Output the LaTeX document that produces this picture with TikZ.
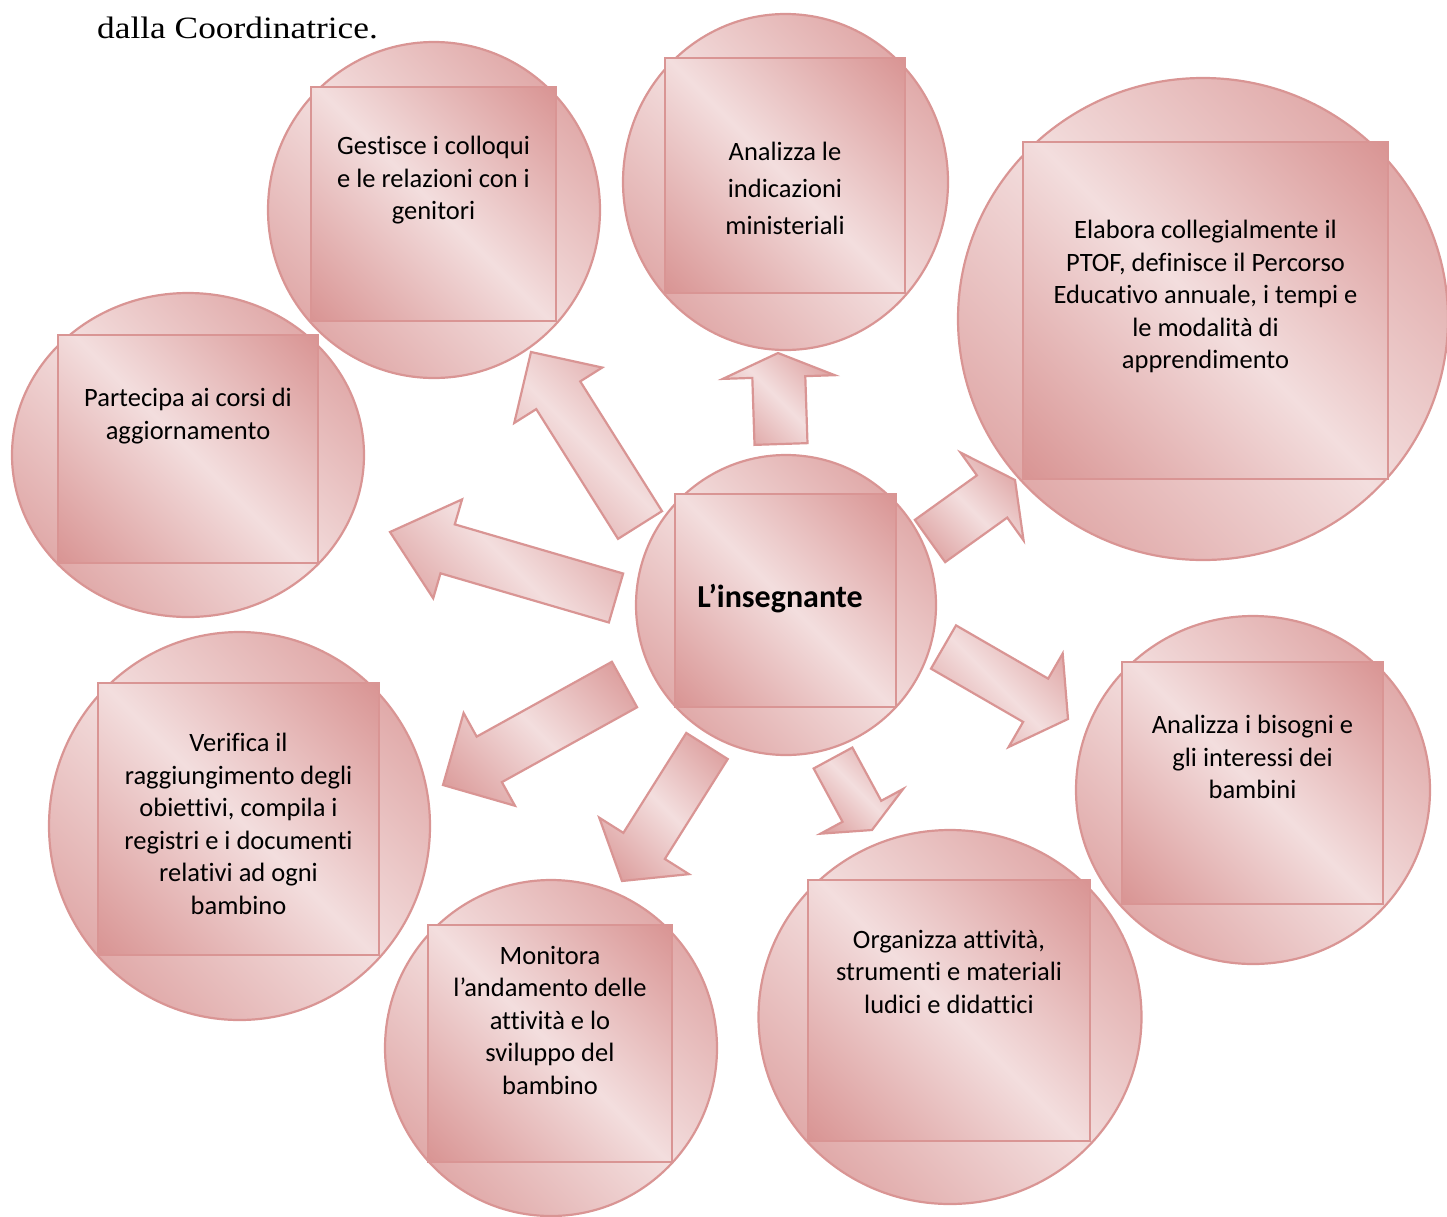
\documentclass[tikz,border=0pt]{standalone}
\usepackage{fontspec}
\setmainfont{Carlito}[Ligatures=NoCommon]
\newfontfamily\topserif{Liberation Serif}
\usetikzlibrary{shapes.geometric,calc}
\definecolor{pkdark}{RGB}{217,149,148}
\definecolor{pklight}{RGB}{243,222,222}
\definecolor{pkborder}{RGB}{217,149,148}
\pgfdeclarehorizontalshading{wordgrad}{100bp}{color(0bp)=(pkdark); color(15bp)=(pkdark); color(50bp)=(pklight); color(85bp)=(pkdark); color(100bp)=(pkdark)}
\tikzset{
  bubble/.style={ellipse, draw=pkborder, line width=2.2pt, shade, shading=wordgrad, shading angle=45, inner sep=0pt, outer sep=0pt},
  panel/.style={rectangle, draw=pkborder, line width=2.2pt, shade, shading=wordgrad, shading angle=45, inner sep=0pt},
  txt/.style={align=center, inner sep=0pt, anchor=north, font=\fontsize{26.5}{32.5}\selectfont},
  blockarr/.style={draw=pkborder, line width=2.2pt, shade, shading=wordgrad, shading angle=45, line join=miter}
}
% #1 name, #2 tail, #3 tip, #4 neck fraction, #5 shaft half width, #6 head half width
\newcommand\myblockarrow[6]{%
  \coordinate (#1n) at ($(#2)!#4!(#3)$);
  \draw[blockarr] ($(#2)!#5!90:(#3)$) -- ($(#1n)!#5!90:(#3)$) -- ($(#1n)!#6!90:(#3)$) -- (#3)
    -- ($(#1n)!#6!-90:(#3)$) -- ($(#1n)!#5!-90:(#3)$) -- ($(#2)!#5!-90:(#3)$) -- cycle;}
\begin{document}
\begin{tikzpicture}[x=1pt,y=-1pt]
\useasboundingbox (0,0) rectangle (1447,1216);
\node[anchor=base west, inner sep=0pt, font=\topserif\fontsize{31}{36}\selectfont] (intro) at (97,38.5) {\scalebox{1.14}[1]{dalla Coordinatrice.}};

% bubbles
\node[bubble, minimum width=332pt, minimum height=336pt] (cG) at (434,210) {};
\node[panel, minimum width=245pt, minimum height=234pt] (sG) at (433.5,204) {};
\node[txt] (tG) at ($(sG.north)+(0,50)$) {Gestisce i colloqui\\e le relazioni con i\\genitori};

\node[bubble, minimum width=325pt, minimum height=336pt] (cA) at (785.5,182) {};
\node[panel, minimum width=240pt, minimum height=235pt] (sA) at (785,175.5) {};
\node[txt, font=\fontsize{26.5}{37}\selectfont] (tA) at ($(sA.north)+(0,85)$) {Analizza le\\indicazioni\\ministeriali};

\node[bubble, minimum width=490pt, minimum height=482pt] (cE) at (1203,319) {};
\node[panel, minimum width=365pt, minimum height=337pt] (sE) at (1205.5,310.5) {};
\node[txt] (tE) at ($(sE.north)+(0,79)$) {Elabora collegialmente il\\PTOF, definisce il Percorso\\Educativo annuale, i tempi e\\le modalità di\\apprendimento};

\node[bubble, minimum width=352pt, minimum height=324pt] (cP) at (188,455) {};
\node[panel, minimum width=260pt, minimum height=228pt] (sP) at (188,449) {};
\node[txt] (tP) at ($(sP.north)+(0,54)$) {Partecipa ai corsi di\\aggiornamento};

\node[bubble, minimum width=300pt, minimum height=300pt] (cC) at (786,605) {};
\node[panel, minimum width=221pt, minimum height=213pt] (sC) at (785.5,600.5) {};
\node[inner sep=0pt, font=\bfseries\fontsize{32}{38}\selectfont] (tC) at (780,599) {L’insegnante};

\node[bubble, minimum width=354pt, minimum height=348pt] (cB) at (1253,790) {};
\node[panel, minimum width=261pt, minimum height=242pt] (sB) at (1252.5,783) {};
\node[txt] (tB) at ($(sB.north)+(0,54)$) {Analizza i bisogni e\\gli interessi dei\\bambini};

\node[bubble, minimum width=381pt, minimum height=388pt] (cV) at (239.5,826) {};
\node[panel, minimum width=281pt, minimum height=272pt] (sV) at (238.5,819) {};
\node[txt] (tV) at ($(sV.north)+(0,51)$) {Verifica il\\raggiungimento degli\\obiettivi, compila i\\registri e i documenti\\relativi ad ogni\\bambino};

\node[bubble, minimum width=332pt, minimum height=336pt] (cM) at (551,1048) {};
\node[panel, minimum width=244pt, minimum height=237pt] (sM) at (550,1043.5) {};
\node[txt] (tM) at ($(sM.north)+(0,22)$) {Monitora\\l’andamento delle\\attività e lo\\sviluppo del\\bambino};

\node[bubble, minimum width=383pt, minimum height=374pt] (cO) at (950,1017) {};
\node[panel, minimum width=282pt, minimum height=261pt] (sO) at (949,1010.5) {};
\node[txt] (tO) at ($(sO.north)+(0,51)$) {Organizza attività,\\strumenti e materiali\\ludici e didattici};

% block arrows (tail, tip)
\coordinate (aT) at (640,525);   \coordinate (aP) at (531,352);
\coordinate (bT) at (616,598);   \coordinate (bP) at (390,532);
\coordinate (cT) at (781,444);   \coordinate (cP) at (778,353);
\coordinate (dT) at (930,541);   \coordinate (dP) at (1015,480);
\coordinate (eT) at (943.5,647); \coordinate (eP) at (1068,719);
\coordinate (fT) at (833,758);   \coordinate (fP) at (872,830);
\coordinate (gT) at (707,746);   \coordinate (gP) at (622,881);
\coordinate (hT) at (624.5,684.5); \coordinate (hP) at (443,785);
\myblockarrow{a}{aT}{aP}{0.75}{26pt}{52pt}
\myblockarrow{b}{bT}{bP}{0.745}{25.5pt}{51.5pt}
\myblockarrow{c}{cT}{cP}{0.736}{26.5pt}{56pt}
\myblockarrow{d}{dT}{dP}{0.73}{26pt}{54pt}
\myblockarrow{e}{eT}{eP}{0.74}{25pt}{54pt}
\myblockarrow{f}{fT}{fP}{0.74}{22pt}{47pt}
\myblockarrow{g}{gT}{gP}{0.74}{24.5pt}{53pt}
\myblockarrow{h}{hT}{hP}{0.745}{26pt}{53pt}
\end{tikzpicture}
\end{document}
